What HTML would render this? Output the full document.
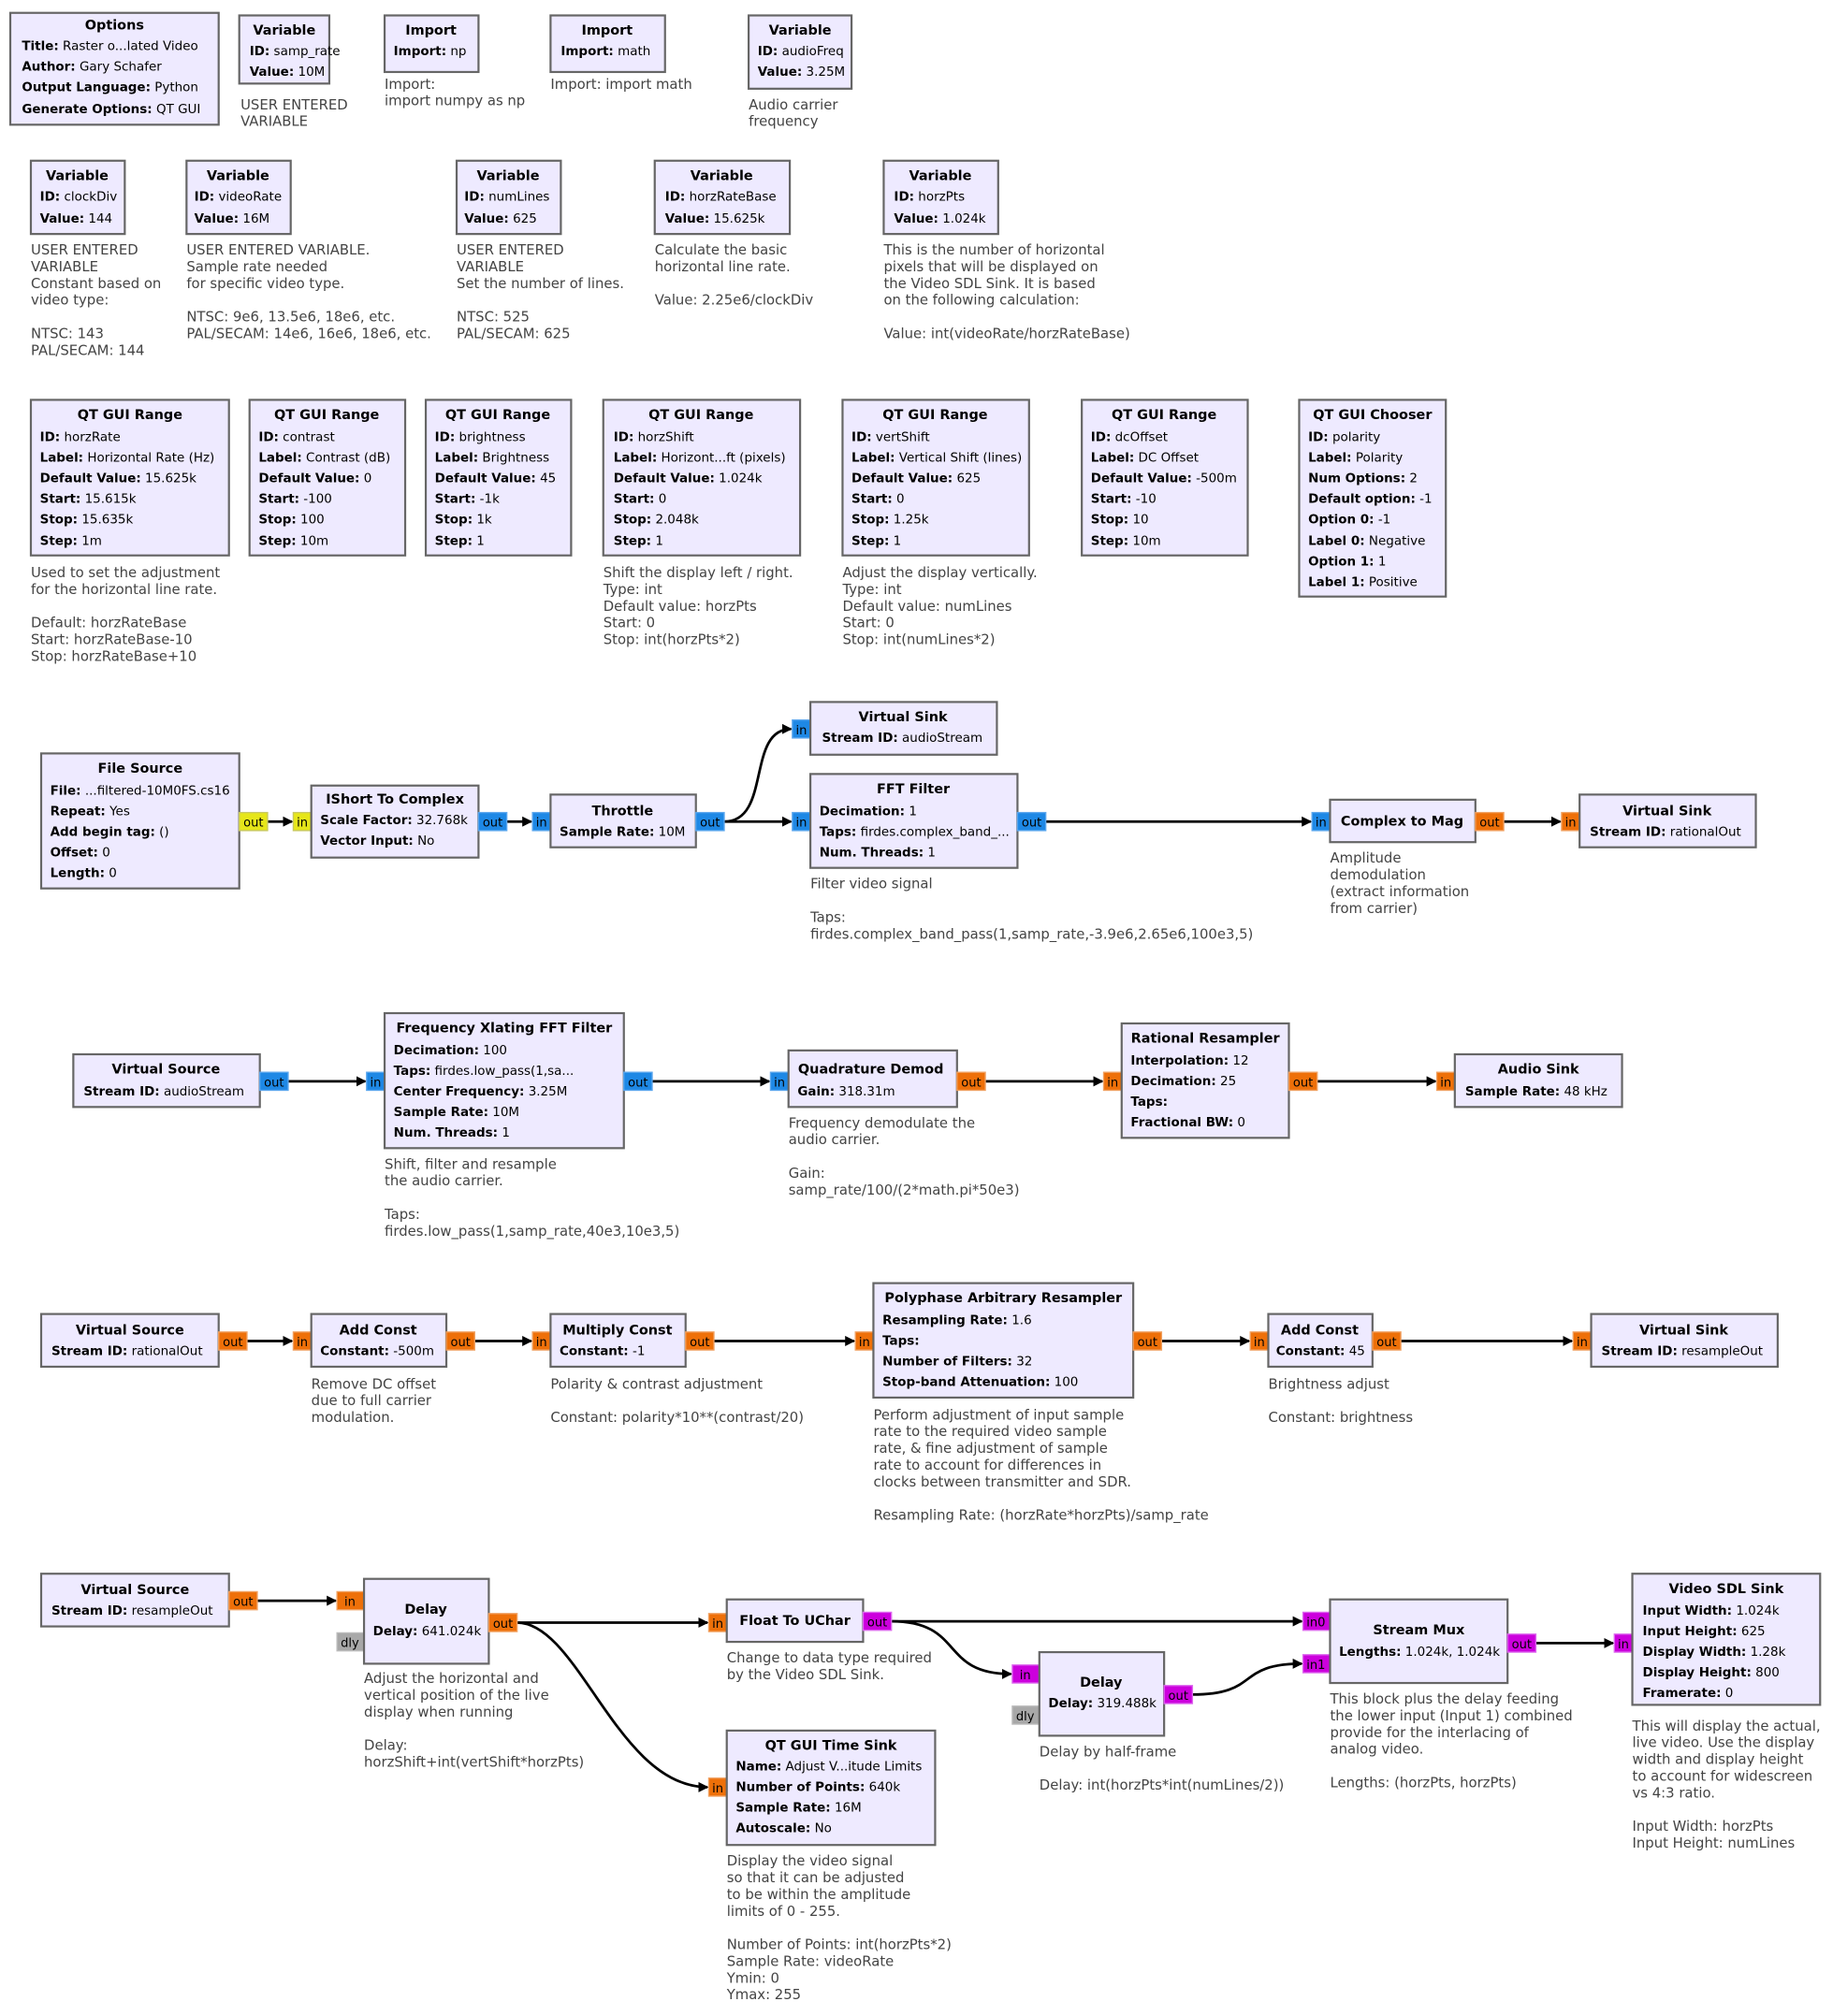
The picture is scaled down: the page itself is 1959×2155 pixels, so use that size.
<!DOCTYPE html>
<html><head><meta charset="utf-8"><style>
html,body{margin:0;padding:0;background:#fff}
svg{display:block}
text{font-family:"DejaVu Sans","Liberation Sans",sans-serif;fill:#000}
.bx{fill:#eeeaff;stroke:#666;stroke-width:1.6}
.t{font-size:10.5px;font-weight:bold;text-anchor:middle}
.r{font-size:9.8px}
.r tspan.k{font-weight:bold}
.c{font-size:10.8px;fill:#444}
.p{font-size:9.5px;text-anchor:middle}
.w{stroke:#000;stroke-width:2;fill:none}
.yl{fill:#e6e61a;stroke:#c8c860}
.bl{fill:#1e88e5;stroke:#5aa6ee}
.or{fill:#ee7009;stroke:#f0a060}
.mg{fill:#cc00dd;stroke:#dd66ee}
.gr{fill:#a8a8a8;stroke:#bbb}
</style></head><body>
<svg width="1959" height="2155" viewBox="0 0 1425 1568" preserveAspectRatio="none" xmlns="http://www.w3.org/2000/svg">
<defs><marker id="a" markerWidth="8" markerHeight="8" refX="7" refY="4" orient="auto" markerUnits="userSpaceOnUse"><path d="M0,0 L8,4 L0,8 z" fill="#000"/></marker></defs>

<!-- Row 1 -->
<rect class="bx" x="8" y="10" width="162" height="87"/>
<text class="t" x="89" y="23">Options</text>
<text class="r" x="17" y="39"><tspan class="k">Title:</tspan> Raster o...lated Video</text>
<text class="r" x="17" y="55"><tspan class="k">Author:</tspan> Gary Schafer</text>
<text class="r" x="17" y="71"><tspan class="k">Output Language:</tspan> Python</text>
<text class="r" x="17" y="88"><tspan class="k">Generate Options:</tspan> QT GUI</text>

<rect class="bx" x="186" y="12" width="70" height="53"/>
<text class="t" x="221" y="27">Variable</text>
<text class="r" x="194" y="43"><tspan class="k">ID:</tspan> samp_rate</text>
<text class="r" x="194" y="59"><tspan class="k">Value:</tspan> 10M</text>
<text class="c" x="187" y="85">USER ENTERED<tspan x="187" dy="13">VARIABLE</tspan></text>

<rect class="bx" x="299" y="12" width="73" height="44"/>
<text class="t" x="335" y="27">Import</text>
<text class="r" x="306" y="43"><tspan class="k">Import:</tspan> np</text>
<text class="c" x="299" y="69">Import:<tspan x="299" dy="13">import numpy as np</tspan></text>

<rect class="bx" x="428" y="12" width="89" height="44"/>
<text class="t" x="472" y="27">Import</text>
<text class="r" x="436" y="43"><tspan class="k">Import:</tspan> math</text>
<text class="c" x="428" y="69">Import: import math</text>

<rect class="bx" x="582" y="12" width="80" height="57"/>
<text class="t" x="622" y="27">Variable</text>
<text class="r" x="589" y="43"><tspan class="k">ID:</tspan> audioFreq</text>
<text class="r" x="589" y="59"><tspan class="k">Value:</tspan> 3.25M</text>
<text class="c" x="582" y="85">Audio carrier<tspan x="582" dy="13">frequency</tspan></text>

<!-- Row 2 -->
<rect class="bx" x="24" y="125" width="73" height="57"/>
<text class="t" x="60" y="140">Variable</text>
<text class="r" x="31" y="156"><tspan class="k">ID:</tspan> clockDiv</text>
<text class="r" x="31" y="173"><tspan class="k">Value:</tspan> 144</text>
<text class="c" x="24" y="198">USER ENTERED<tspan x="24" dy="13">VARIABLE</tspan><tspan x="24" dy="13">Constant based on</tspan><tspan x="24" dy="13">video type:</tspan><tspan x="24" dy="26">NTSC: 143</tspan><tspan x="24" dy="13">PAL/SECAM: 144</tspan></text>

<rect class="bx" x="145" y="125" width="81" height="57"/>
<text class="t" x="185" y="140">Variable</text>
<text class="r" x="151" y="156"><tspan class="k">ID:</tspan> videoRate</text>
<text class="r" x="151" y="173"><tspan class="k">Value:</tspan> 16M</text>
<text class="c" x="145" y="198">USER ENTERED VARIABLE.<tspan x="145" dy="13">Sample rate needed</tspan><tspan x="145" dy="13">for specific video type.</tspan><tspan x="145" dy="26">NTSC: 9e6, 13.5e6, 18e6, etc.</tspan><tspan x="145" dy="13">PAL/SECAM: 14e6, 16e6, 18e6, etc.</tspan></text>

<rect class="bx" x="355" y="125" width="81" height="57"/>
<text class="t" x="395" y="140">Variable</text>
<text class="r" x="361" y="156"><tspan class="k">ID:</tspan> numLines</text>
<text class="r" x="361" y="173"><tspan class="k">Value:</tspan> 625</text>
<text class="c" x="355" y="198">USER ENTERED<tspan x="355" dy="13">VARIABLE</tspan><tspan x="355" dy="13">Set the number of lines.</tspan><tspan x="355" dy="26">NTSC: 525</tspan><tspan x="355" dy="13">PAL/SECAM: 625</tspan></text>

<rect class="bx" x="509" y="125" width="105" height="57"/>
<text class="t" x="561" y="140">Variable</text>
<text class="r" x="517" y="156"><tspan class="k">ID:</tspan> horzRateBase</text>
<text class="r" x="517" y="173"><tspan class="k">Value:</tspan> 15.625k</text>
<text class="c" x="509" y="198">Calculate the basic<tspan x="509" dy="13">horizontal line rate.</tspan><tspan x="509" dy="26">Value: 2.25e6/clockDiv</tspan></text>

<rect class="bx" x="687" y="125" width="89" height="57"/>
<text class="t" x="731" y="140">Variable</text>
<text class="r" x="695" y="156"><tspan class="k">ID:</tspan> horzPts</text>
<text class="r" x="695" y="173"><tspan class="k">Value:</tspan> 1.024k</text>
<text class="c" x="687" y="198">This is the number of horizontal<tspan x="687" dy="13">pixels that will be displayed on</tspan><tspan x="687" dy="13">the Video SDL Sink. It is based</tspan><tspan x="687" dy="13">on the following calculation:</tspan><tspan x="687" dy="26">Value: int(videoRate/horzRateBase)</tspan></text>

<!-- Row 3 -->
<rect class="bx" x="24" y="311" width="154" height="121"/>
<text class="t" x="101" y="326">QT GUI Range</text>
<text class="r" x="31" y="343"><tspan class="k">ID:</tspan> horzRate</text>
<text class="r" x="31" y="359"><tspan class="k">Label:</tspan> Horizontal Rate (Hz)</text>
<text class="r" x="31" y="375"><tspan class="k">Default Value:</tspan> 15.625k</text>
<text class="r" x="31" y="391"><tspan class="k">Start:</tspan> 15.615k</text>
<text class="r" x="31" y="407"><tspan class="k">Stop:</tspan> 15.635k</text>
<text class="r" x="31" y="424"><tspan class="k">Step:</tspan> 1m</text>
<text class="c" x="24" y="449">Used to set the adjustment<tspan x="24" dy="13">for the horizontal line rate.</tspan><tspan x="24" dy="26">Default: horzRateBase</tspan><tspan x="24" dy="13">Start: horzRateBase-10</tspan><tspan x="24" dy="13">Stop: horzRateBase+10</tspan></text>

<rect class="bx" x="194" y="311" width="121" height="121"/>
<text class="t" x="254" y="326">QT GUI Range</text>
<text class="r" x="201" y="343"><tspan class="k">ID:</tspan> contrast</text>
<text class="r" x="201" y="359"><tspan class="k">Label:</tspan> Contrast (dB)</text>
<text class="r" x="201" y="375"><tspan class="k">Default Value:</tspan> 0</text>
<text class="r" x="201" y="391"><tspan class="k">Start:</tspan> -100</text>
<text class="r" x="201" y="407"><tspan class="k">Stop:</tspan> 100</text>
<text class="r" x="201" y="424"><tspan class="k">Step:</tspan> 10m</text>

<rect class="bx" x="331" y="311" width="113" height="121"/>
<text class="t" x="387" y="326">QT GUI Range</text>
<text class="r" x="338" y="343"><tspan class="k">ID:</tspan> brightness</text>
<text class="r" x="338" y="359"><tspan class="k">Label:</tspan> Brightness</text>
<text class="r" x="338" y="375"><tspan class="k">Default Value:</tspan> 45</text>
<text class="r" x="338" y="391"><tspan class="k">Start:</tspan> -1k</text>
<text class="r" x="338" y="407"><tspan class="k">Stop:</tspan> 1k</text>
<text class="r" x="338" y="424"><tspan class="k">Step:</tspan> 1</text>

<rect class="bx" x="469" y="311" width="153" height="121"/>
<text class="t" x="545" y="326">QT GUI Range</text>
<text class="r" x="477" y="343"><tspan class="k">ID:</tspan> horzShift</text>
<text class="r" x="477" y="359"><tspan class="k">Label:</tspan> Horizont...ft (pixels)</text>
<text class="r" x="477" y="375"><tspan class="k">Default Value:</tspan> 1.024k</text>
<text class="r" x="477" y="391"><tspan class="k">Start:</tspan> 0</text>
<text class="r" x="477" y="407"><tspan class="k">Stop:</tspan> 2.048k</text>
<text class="r" x="477" y="424"><tspan class="k">Step:</tspan> 1</text>
<text class="c" x="469" y="449">Shift the display left / right.<tspan x="469" dy="13">Type: int</tspan><tspan x="469" dy="13">Default value: horzPts</tspan><tspan x="469" dy="13">Start: 0</tspan><tspan x="469" dy="13">Stop: int(horzPts*2)</tspan></text>

<rect class="bx" x="655" y="311" width="145" height="121"/>
<text class="t" x="727" y="326">QT GUI Range</text>
<text class="r" x="662" y="343"><tspan class="k">ID:</tspan> vertShift</text>
<text class="r" x="662" y="359"><tspan class="k">Label:</tspan> Vertical Shift (lines)</text>
<text class="r" x="662" y="375"><tspan class="k">Default Value:</tspan> 625</text>
<text class="r" x="662" y="391"><tspan class="k">Start:</tspan> 0</text>
<text class="r" x="662" y="407"><tspan class="k">Stop:</tspan> 1.25k</text>
<text class="r" x="662" y="424"><tspan class="k">Step:</tspan> 1</text>
<text class="c" x="655" y="449">Adjust the display vertically.<tspan x="655" dy="13">Type: int</tspan><tspan x="655" dy="13">Default value: numLines</tspan><tspan x="655" dy="13">Start: 0</tspan><tspan x="655" dy="13">Stop: int(numLines*2)</tspan></text>

<rect class="bx" x="841" y="311" width="129" height="121"/>
<text class="t" x="905" y="326">QT GUI Range</text>
<text class="r" x="848" y="343"><tspan class="k">ID:</tspan> dcOffset</text>
<text class="r" x="848" y="359"><tspan class="k">Label:</tspan> DC Offset</text>
<text class="r" x="848" y="375"><tspan class="k">Default Value:</tspan> -500m</text>
<text class="r" x="848" y="391"><tspan class="k">Start:</tspan> -10</text>
<text class="r" x="848" y="407"><tspan class="k">Stop:</tspan> 10</text>
<text class="r" x="848" y="424"><tspan class="k">Step:</tspan> 10m</text>

<rect class="bx" x="1010" y="311" width="114" height="153"/>
<text class="t" x="1067" y="326">QT GUI Chooser</text>
<text class="r" x="1017" y="343"><tspan class="k">ID:</tspan> polarity</text>
<text class="r" x="1017" y="359"><tspan class="k">Label:</tspan> Polarity</text>
<text class="r" x="1017" y="375"><tspan class="k">Num Options:</tspan> 2</text>
<text class="r" x="1017" y="391"><tspan class="k">Default option:</tspan> -1</text>
<text class="r" x="1017" y="407"><tspan class="k">Option 0:</tspan> -1</text>
<text class="r" x="1017" y="424"><tspan class="k">Label 0:</tspan> Negative</text>
<text class="r" x="1017" y="440"><tspan class="k">Option 1:</tspan> 1</text>
<text class="r" x="1017" y="456"><tspan class="k">Label 1:</tspan> Positive</text>

<!-- Flow 1 wires -->
<path class="w" d="M208,639 L227,639" marker-end="url(#a)"/>
<path class="w" d="M394,639 L413,639" marker-end="url(#a)"/>
<path class="w" d="M563,639 L615,639" marker-end="url(#a)"/>
<path class="w" d="M563,639 C600,639 580,567 615,567" marker-end="url(#a)"/>
<path class="w" d="M813,639 L1019,639" marker-end="url(#a)"/>
<path class="w" d="M1169,639 L1213,639" marker-end="url(#a)"/>

<rect class="bx" x="32" y="586" width="154" height="105"/>
<text class="t" x="109" y="601">File Source</text>
<text class="r" x="39" y="618"><tspan class="k">File:</tspan> ...filtered-10M0FS.cs16</text>
<text class="r" x="39" y="634"><tspan class="k">Repeat:</tspan> Yes</text>
<text class="r" x="39" y="650"><tspan class="k">Add begin tag:</tspan> ()</text>
<text class="r" x="39" y="666"><tspan class="k">Offset:</tspan> 0</text>
<text class="r" x="39" y="682"><tspan class="k">Length:</tspan> 0</text>
<rect class="yl" x="186" y="632" width="22" height="14"/><text class="p" x="197" y="643">out</text>

<rect class="yl" x="228" y="632" width="14" height="14"/><text class="p" x="235" y="643">in</text>
<rect class="bx" x="242" y="611" width="130" height="56"/>
<text class="t" x="307" y="625">IShort To Complex</text>
<text class="r" x="249" y="641"><tspan class="k">Scale Factor:</tspan> 32.768k</text>
<text class="r" x="249" y="657"><tspan class="k">Vector Input:</tspan> No</text>
<rect class="bl" x="372" y="632" width="22" height="14"/><text class="p" x="383" y="643">out</text>

<rect class="bl" x="414" y="632" width="14" height="14"/><text class="p" x="421" y="643">in</text>
<rect class="bx" x="428" y="618" width="113" height="41"/>
<text class="t" x="484" y="634">Throttle</text>
<text class="r" x="435" y="650"><tspan class="k">Sample Rate:</tspan> 10M</text>
<rect class="bl" x="541" y="632" width="22" height="14"/><text class="p" x="552" y="643">out</text>

<rect class="bl" x="616" y="560" width="14" height="14"/><text class="p" x="623" y="571">in</text>
<rect class="bx" x="630" y="546" width="145" height="41"/>
<text class="t" x="702" y="561">Virtual Sink</text>
<text class="r" x="639" y="577"><tspan class="k">Stream ID:</tspan> audioStream</text>

<rect class="bl" x="616" y="632" width="14" height="14"/><text class="p" x="623" y="643">in</text>
<rect class="bx" x="630" y="602" width="161" height="73"/>
<text class="t" x="710" y="617">FFT Filter</text>
<text class="r" x="637" y="634"><tspan class="k">Decimation:</tspan> 1</text>
<text class="r" x="637" y="650"><tspan class="k">Taps:</tspan> firdes.complex_band_...</text>
<text class="r" x="637" y="666"><tspan class="k">Num. Threads:</tspan> 1</text>
<rect class="bl" x="791" y="632" width="22" height="14"/><text class="p" x="802" y="643">out</text>
<text class="c" x="630" y="691">Filter video signal<tspan x="630" dy="26">Taps:</tspan><tspan x="630" dy="13">firdes.complex_band_pass(1,samp_rate,-3.9e6,2.65e6,100e3,5)</tspan></text>

<rect class="bl" x="1020" y="632" width="14" height="14"/><text class="p" x="1027" y="643">in</text>
<rect class="bx" x="1034" y="622" width="113" height="33"/>
<text class="t" x="1090" y="642">Complex to Mag</text>
<rect class="or" x="1147" y="632" width="22" height="14"/><text class="p" x="1158" y="643">out</text>
<text class="c" x="1034" y="671">Amplitude<tspan x="1034" dy="13">demodulation</tspan><tspan x="1034" dy="13">(extract information</tspan><tspan x="1034" dy="13">from carrier)</tspan></text>

<rect class="or" x="1214" y="632" width="14" height="14"/><text class="p" x="1221" y="643">in</text>
<rect class="bx" x="1228" y="618" width="137" height="41"/>
<text class="t" x="1296" y="634">Virtual Sink</text>
<text class="r" x="1236" y="650"><tspan class="k">Stream ID:</tspan> rationalOut</text>

<!-- Flow 2 -->
<path class="w" d="M224,841 L284,841" marker-end="url(#a)"/>
<path class="w" d="M507,841 L598,841" marker-end="url(#a)"/>
<path class="w" d="M766,841 L857,841" marker-end="url(#a)"/>
<path class="w" d="M1024,841 L1116,841" marker-end="url(#a)"/>

<rect class="bx" x="57" y="820" width="145" height="41"/>
<text class="t" x="129" y="835">Virtual Source</text>
<text class="r" x="65" y="852"><tspan class="k">Stream ID:</tspan> audioStream</text>
<rect class="bl" x="202" y="834" width="22" height="14"/><text class="p" x="213" y="845">out</text>

<rect class="bl" x="285" y="834" width="14" height="14"/><text class="p" x="292" y="845">in</text>
<rect class="bx" x="299" y="788" width="186" height="105"/>
<text class="t" x="392" y="803">Frequency Xlating FFT Filter</text>
<text class="r" x="306" y="820"><tspan class="k">Decimation:</tspan> 100</text>
<text class="r" x="306" y="836"><tspan class="k">Taps:</tspan> firdes.low_pass(1,sa...</text>
<text class="r" x="306" y="852"><tspan class="k">Center Frequency:</tspan> 3.25M</text>
<text class="r" x="306" y="868"><tspan class="k">Sample Rate:</tspan> 10M</text>
<text class="r" x="306" y="884"><tspan class="k">Num. Threads:</tspan> 1</text>
<rect class="bl" x="485" y="834" width="22" height="14"/><text class="p" x="496" y="845">out</text>
<text class="c" x="299" y="909">Shift, filter and resample<tspan x="299" dy="13">the audio carrier.</tspan><tspan x="299" dy="26">Taps:</tspan><tspan x="299" dy="13">firdes.low_pass(1,samp_rate,40e3,10e3,5)</tspan></text>

<rect class="bl" x="599" y="834" width="14" height="14"/><text class="p" x="606" y="845">in</text>
<rect class="bx" x="613" y="817" width="131" height="44"/>
<text class="t" x="677" y="835">Quadrature Demod</text>
<text class="r" x="620" y="852"><tspan class="k">Gain:</tspan> 318.31m</text>
<rect class="or" x="744" y="834" width="22" height="14"/><text class="p" x="755" y="845">out</text>
<text class="c" x="613" y="877">Frequency demodulate the<tspan x="613" dy="13">audio carrier.</tspan><tspan x="613" dy="26">Gain:</tspan><tspan x="613" dy="13">samp_rate/100/(2*math.pi*50e3)</tspan></text>

<rect class="or" x="858" y="834" width="14" height="14"/><text class="p" x="865" y="845">in</text>
<rect class="bx" x="872" y="796" width="130" height="89"/>
<text class="t" x="937" y="811">Rational Resampler</text>
<text class="r" x="879" y="828"><tspan class="k">Interpolation:</tspan> 12</text>
<text class="r" x="879" y="844"><tspan class="k">Decimation:</tspan> 25</text>
<text class="r" x="879" y="860"><tspan class="k">Taps:</tspan></text>
<text class="r" x="879" y="876"><tspan class="k">Fractional BW:</tspan> 0</text>
<rect class="or" x="1002" y="834" width="22" height="14"/><text class="p" x="1013" y="845">out</text>

<rect class="or" x="1117" y="834" width="14" height="14"/><text class="p" x="1124" y="845">in</text>
<rect class="bx" x="1131" y="820" width="130" height="41"/>
<text class="t" x="1196" y="835">Audio Sink</text>
<text class="r" x="1139" y="852"><tspan class="k">Sample Rate:</tspan> 48 kHz</text>

<!-- Flow 3 -->
<path class="w" d="M192,1043 L227,1043" marker-end="url(#a)"/>
<path class="w" d="M369,1043 L413,1043" marker-end="url(#a)"/>
<path class="w" d="M555,1043 L664,1043" marker-end="url(#a)"/>
<path class="w" d="M903,1043 L971,1043" marker-end="url(#a)"/>
<path class="w" d="M1089,1043 L1222,1043" marker-end="url(#a)"/>

<rect class="bx" x="32" y="1022" width="138" height="41"/>
<text class="t" x="101" y="1038">Virtual Source</text>
<text class="r" x="40" y="1054"><tspan class="k">Stream ID:</tspan> rationalOut</text>
<rect class="or" x="170" y="1036" width="22" height="14"/><text class="p" x="181" y="1047">out</text>

<rect class="or" x="228" y="1036" width="14" height="14"/><text class="p" x="235" y="1047">in</text>
<rect class="bx" x="242" y="1022" width="105" height="41"/>
<text class="t" x="294" y="1038">Add Const</text>
<text class="r" x="249" y="1054"><tspan class="k">Constant:</tspan> -500m</text>
<rect class="or" x="347" y="1036" width="22" height="14"/><text class="p" x="358" y="1047">out</text>
<text class="c" x="242" y="1080">Remove DC offset<tspan x="242" dy="13">due to full carrier</tspan><tspan x="242" dy="13">modulation.</tspan></text>

<rect class="or" x="414" y="1036" width="14" height="14"/><text class="p" x="421" y="1047">in</text>
<rect class="bx" x="428" y="1022" width="105" height="41"/>
<text class="t" x="480" y="1038">Multiply Const</text>
<text class="r" x="435" y="1054"><tspan class="k">Constant:</tspan> -1</text>
<rect class="or" x="533" y="1036" width="22" height="14"/><text class="p" x="544" y="1047">out</text>
<text class="c" x="428" y="1080">Polarity &amp; contrast adjustment<tspan x="428" dy="26">Constant: polarity*10**(contrast/20)</tspan></text>

<rect class="or" x="665" y="1036" width="14" height="14"/><text class="p" x="672" y="1047">in</text>
<rect class="bx" x="679" y="998" width="202" height="89"/>
<text class="t" x="780" y="1013">Polyphase Arbitrary Resampler</text>
<text class="r" x="686" y="1030"><tspan class="k">Resampling Rate:</tspan> 1.6</text>
<text class="r" x="686" y="1046"><tspan class="k">Taps:</tspan></text>
<text class="r" x="686" y="1062"><tspan class="k">Number of Filters:</tspan> 32</text>
<text class="r" x="686" y="1078"><tspan class="k">Stop-band Attenuation:</tspan> 100</text>
<rect class="or" x="881" y="1036" width="22" height="14"/><text class="p" x="892" y="1047">out</text>
<text class="c" x="679" y="1104">Perform adjustment of input sample<tspan x="679" dy="13">rate to the required video sample</tspan><tspan x="679" dy="13">rate, &amp; fine adjustment of sample</tspan><tspan x="679" dy="13">rate to account for differences in</tspan><tspan x="679" dy="13">clocks between transmitter and SDR.</tspan><tspan x="679" dy="26">Resampling Rate: (horzRate*horzPts)/samp_rate</tspan></text>

<rect class="or" x="972" y="1036" width="14" height="14"/><text class="p" x="979" y="1047">in</text>
<rect class="bx" x="986" y="1022" width="81" height="41"/>
<text class="t" x="1026" y="1038">Add Const</text>
<text class="r" x="992" y="1054"><tspan class="k">Constant:</tspan> 45</text>
<rect class="or" x="1067" y="1036" width="22" height="14"/><text class="p" x="1078" y="1047">out</text>
<text class="c" x="986" y="1080">Brightness adjust<tspan x="986" dy="26">Constant: brightness</tspan></text>

<rect class="or" x="1223" y="1036" width="14" height="14"/><text class="p" x="1230" y="1047">in</text>
<rect class="bx" x="1237" y="1022" width="145" height="41"/>
<text class="t" x="1309" y="1038">Virtual Sink</text>
<text class="r" x="1245" y="1054"><tspan class="k">Stream ID:</tspan> resampleOut</text>

<!-- Flow 4 -->
<path class="w" d="M200,1245 L261,1245" marker-end="url(#a)"/>
<path class="w" d="M402,1262 L550,1262" marker-end="url(#a)"/>
<path class="w" d="M402,1262 C450,1262 480,1390 550,1390" marker-end="url(#a)"/>
<path class="w" d="M693,1261 L1012,1261" marker-end="url(#a)"/>
<path class="w" d="M693,1261 C750,1261 730,1302 786,1302" marker-end="url(#a)"/>
<path class="w" d="M927,1318 C980,1318 960,1294 1012,1294" marker-end="url(#a)"/>
<path class="w" d="M1194,1278 L1254,1278" marker-end="url(#a)"/>

<rect class="bx" x="32" y="1224" width="146" height="41"/>
<text class="t" x="105" y="1240">Virtual Source</text>
<text class="r" x="40" y="1256"><tspan class="k">Stream ID:</tspan> resampleOut</text>
<rect class="or" x="178" y="1238" width="22" height="14"/><text class="p" x="189" y="1249">out</text>

<rect class="or" x="262" y="1238" width="21" height="14"/><text class="p" x="272" y="1249">in</text>
<rect class="gr" x="262" y="1270" width="21" height="14"/><text class="p" x="272" y="1281">dly</text>
<rect class="bx" x="283" y="1228" width="97" height="66"/>
<text class="t" x="331" y="1255">Delay</text>
<text class="r" x="290" y="1272"><tspan class="k">Delay:</tspan> 641.024k</text>
<rect class="or" x="380" y="1255" width="22" height="14"/><text class="p" x="391" y="1266">out</text>
<text class="c" x="283" y="1309">Adjust the horizontal  and<tspan x="283" dy="13">vertical position of the live</tspan><tspan x="283" dy="13">display when running</tspan><tspan x="283" dy="26">Delay:</tspan><tspan x="283" dy="13">horzShift+int(vertShift*horzPts)</tspan></text>

<rect class="or" x="551" y="1255" width="14" height="14"/><text class="p" x="558" y="1266">in</text>
<rect class="bx" x="565" y="1244" width="106" height="33"/>
<text class="t" x="618" y="1264">Float To UChar</text>
<rect class="mg" x="671" y="1254" width="22" height="14"/><text class="p" x="682" y="1265">out</text>
<text class="c" x="565" y="1293">Change to data type required<tspan x="565" dy="13">by the Video SDL Sink.</tspan></text>

<rect class="or" x="551" y="1383" width="14" height="14"/><text class="p" x="558" y="1394">in</text>
<rect class="bx" x="565" y="1346" width="162" height="89"/>
<text class="t" x="646" y="1361">QT GUI Time Sink</text>
<text class="r" x="572" y="1377"><tspan class="k">Name:</tspan> Adjust V...itude Limits</text>
<text class="r" x="572" y="1393"><tspan class="k">Number of Points:</tspan> 640k</text>
<text class="r" x="572" y="1409"><tspan class="k">Sample Rate:</tspan> 16M</text>
<text class="r" x="572" y="1425"><tspan class="k">Autoscale:</tspan> No</text>
<text class="c" x="565" y="1451">Display the video signal<tspan x="565" dy="13">so that it can be adjusted</tspan><tspan x="565" dy="13">to be within the amplitude</tspan><tspan x="565" dy="13">limits of 0 - 255.</tspan><tspan x="565" dy="26">Number of Points: int(horzPts*2)</tspan><tspan x="565" dy="13">Sample Rate: videoRate</tspan><tspan x="565" dy="13">Ymin: 0</tspan><tspan x="565" dy="13">Ymax: 255</tspan></text>

<rect class="mg" x="787" y="1295" width="21" height="14"/><text class="p" x="797" y="1306">in</text>
<rect class="gr" x="787" y="1327" width="21" height="14"/><text class="p" x="797" y="1338">dly</text>
<rect class="bx" x="808" y="1285" width="97" height="65"/>
<text class="t" x="856" y="1312">Delay</text>
<text class="r" x="815" y="1328"><tspan class="k">Delay:</tspan> 319.488k</text>
<rect class="mg" x="905" y="1311" width="22" height="14"/><text class="p" x="916" y="1322">out</text>
<text class="c" x="808" y="1366">Delay by half-frame<tspan x="808" dy="26">Delay: int(horzPts*int(numLines/2))</tspan></text>

<rect class="mg" x="1013" y="1254" width="21" height="14"/><text class="p" x="1023" y="1265">in0</text>
<rect class="mg" x="1013" y="1287" width="21" height="14"/><text class="p" x="1023" y="1298">in1</text>
<rect class="bx" x="1034" y="1244" width="138" height="65"/>
<text class="t" x="1103" y="1271">Stream Mux</text>
<text class="r" x="1041" y="1288"><tspan class="k">Lengths:</tspan> 1.024k, 1.024k</text>
<rect class="mg" x="1172" y="1271" width="22" height="14"/><text class="p" x="1183" y="1282">out</text>
<text class="c" x="1034" y="1325">This block plus the delay feeding<tspan x="1034" dy="13">the lower input (Input 1) combined</tspan><tspan x="1034" dy="13">provide for the interlacing of</tspan><tspan x="1034" dy="13">analog video.</tspan><tspan x="1034" dy="26">Lengths: (horzPts, horzPts)</tspan></text>

<rect class="mg" x="1255" y="1271" width="14" height="14"/><text class="p" x="1262" y="1282">in</text>
<rect class="bx" x="1269" y="1224" width="146" height="102"/>
<text class="t" x="1342" y="1239">Video SDL Sink</text>
<text class="r" x="1277" y="1256"><tspan class="k">Input Width:</tspan> 1.024k</text>
<text class="r" x="1277" y="1272"><tspan class="k">Input Height:</tspan> 625</text>
<text class="r" x="1277" y="1288"><tspan class="k">Display Width:</tspan> 1.28k</text>
<text class="r" x="1277" y="1304"><tspan class="k">Display Height:</tspan> 800</text>
<text class="r" x="1277" y="1320"><tspan class="k">Framerate:</tspan> 0</text>
<text class="c" x="1269" y="1346">This will display the actual,<tspan x="1269" dy="13">live video. Use the display</tspan><tspan x="1269" dy="13">width and display height</tspan><tspan x="1269" dy="13">to account for widescreen</tspan><tspan x="1269" dy="13">vs 4:3 ratio.</tspan><tspan x="1269" dy="26">Input Width: horzPts</tspan><tspan x="1269" dy="13">Input Height: numLines</tspan></text>
</svg>
</body></html>
